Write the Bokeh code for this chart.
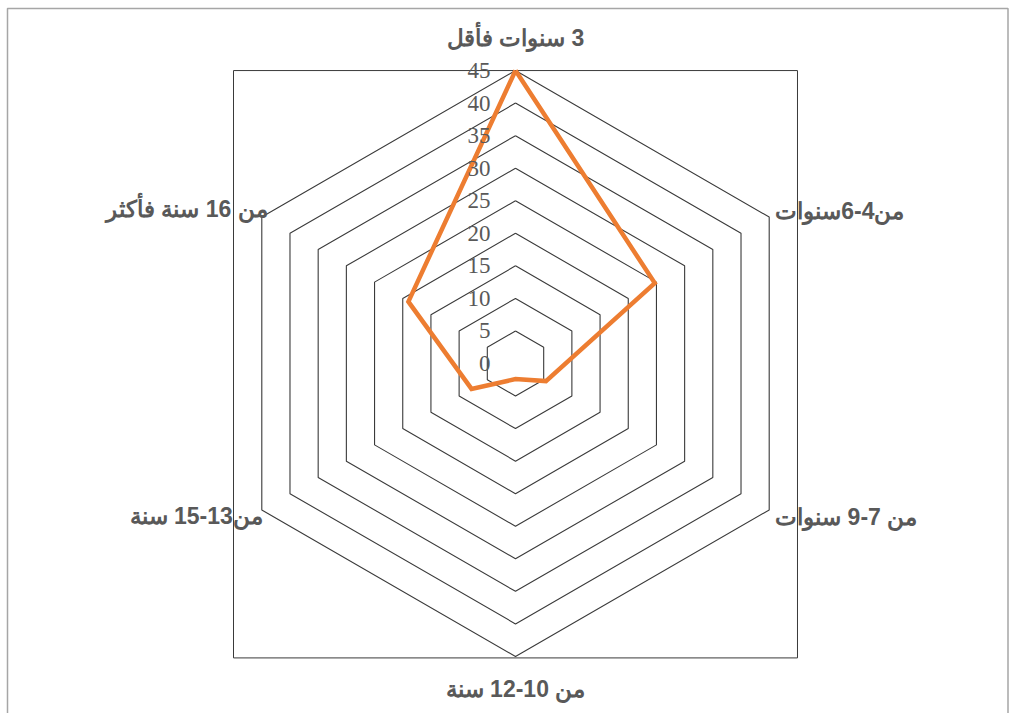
import math
from bokeh.plotting import figure
from bokeh.models import ColumnDataSource, Range1d
from bokeh.core.properties import value
from bokeh.embed import file_html
from bokeh.resources import INLINE

# Age groups (clockwise from the top) and the share for each
categories = [
    "\u200f3 سنوات فأقل",
    "من4-6سنوات",
    "من 7-9 سنوات",
    "من 10-12 سنة",
    "من13-15 سنة",
    "من 16 سنة فأكثر",
]
values = [45, 24.7, 5.4, 2.4, 7.8, 19]
ring_levels = [5, 10, 15, 20, 25, 30, 35, 40, 45]
tick_labels = ["0", "5", "10", "15", "20", "25", "30", "35", "40", "45"]
tick_values = [0, 5, 10, 15, 20, 25, 30, 35, 40, 45]

R_MAX = 45
PX = 6.51            # pixels per unit
CX, CY = 515, 363    # centre of the radar in page pixels
W, H = 1014, 713

n = len(categories)
angles = [math.pi / 2 - 2 * math.pi * i / n for i in range(n)]


def ring(r):
    xs = [r * math.cos(a) for a in angles]
    ys = [r * math.sin(a) for a in angles]
    return xs + xs[:1], ys + ys[:1]


x0, x1 = -CX / PX, (W - CX) / PX
y0, y1 = -(H - CY) / PX, CY / PX

p = figure(
    width=W, height=H,
    x_range=Range1d(x0, x1), y_range=Range1d(y0, y1),
    min_border=0, toolbar_location=None, output_backend="svg",
)
p.axis.visible = False
p.grid.visible = False
p.outline_line_color = None
p.background_fill_color = "white"
p.border_fill_color = "white"

# chart-area frame (left, top and right edges)
fl, fr, ft = (7 - CX) / PX, (1007.5 - CX) / PX, (CY - 8) / PX
p.line([fl, fl, fr, fr], [y0 - 5, ft, ft, y0 - 5],
       line_color="#a6a6a6", line_width=1.5)

# plot-area box
half_w = R_MAX * 0.9626
p.quad(left=-half_w, right=half_w, bottom=-R_MAX * 1.005, top=R_MAX,
       fill_color=None, line_color="#3a3a3a", line_width=1)

# hexagonal grid rings
ring_xs, ring_ys = zip(*[ring(r) for r in ring_levels])
p.multi_line(list(ring_xs), list(ring_ys), line_color="#3a3a3a", line_width=1.1)

# series polygon
sx = [v * math.cos(a) for v, a in zip(values, angles)]
sy = [v * math.sin(a) for v, a in zip(values, angles)]
p.line(sx + sx[:1], sy + sy[:1], line_color="#ED7D31", line_width=4.5,
       line_join="miter")

# radial tick labels
p.text(x=[0] * len(tick_values), y=tick_values, text=tick_labels,
       x_offset=-25, text_align="right", text_baseline="middle",
       text_font=value("Liberation Serif"), text_font_size="23px",
       text_color="#595959")

# category labels around the outside
lab_x = [R_MAX * math.cos(a) for a in angles]
lab_y = [R_MAX * math.sin(a) for a in angles]
src = ColumnDataSource(dict(
    x=lab_x, y=lab_y, text=categories,
    xo=[0, 6, 6, 0, 1, 6],
    yo=[-33, -6, 7, 33, 6, -8],
    align=["center", "left", "left", "center", "right", "right"],
))
p.text(x="x", y="y", text="text", source=src, x_offset="xo", y_offset="yo",
       text_align="align", text_baseline="middle",
       text_font=value("Liberation Sans"), text_font_style="bold",
       text_font_size="23px", text_color="#595959")

open("out.html", "w").write(file_html(p, INLINE))
